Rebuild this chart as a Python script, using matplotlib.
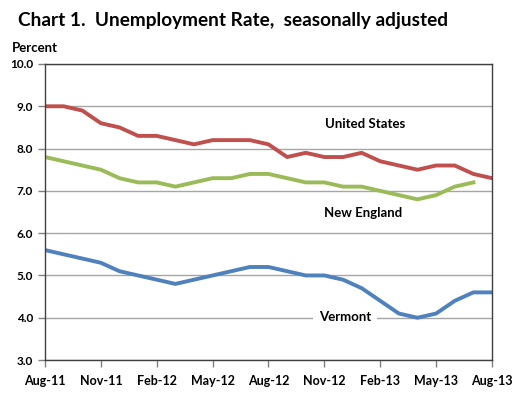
import numpy as np
import matplotlib
matplotlib.use('Agg')
import matplotlib.pyplot as plt

plt.rcParams['font.family'] = ['Lato', 'DejaVu Sans']

months = ['Aug-11', 'Sep-11', 'Oct-11', 'Nov-11', 'Dec-11', 'Jan-12', 'Feb-12',
          'Mar-12', 'Apr-12', 'May-12', 'Jun-12', 'Jul-12', 'Aug-12', 'Sep-12',
          'Oct-12', 'Nov-12', 'Dec-12', 'Jan-13', 'Feb-13', 'Mar-13', 'Apr-13',
          'May-13', 'Jun-13', 'Jul-13', 'Aug-13']

united_states = [9.0, 9.0, 8.9, 8.6, 8.5, 8.3, 8.3, 8.2, 8.1, 8.2, 8.2, 8.2, 8.1,
                 7.8, 7.9, 7.8, 7.8, 7.9, 7.7, 7.6, 7.5, 7.6, 7.6, 7.4, 7.3]
new_england = [7.8, 7.7, 7.6, 7.5, 7.3, 7.2, 7.2, 7.1, 7.2, 7.3, 7.3, 7.4, 7.4,
               7.3, 7.2, 7.2, 7.1, 7.1, 7.0, 6.9, 6.8, 6.9, 7.1, 7.2]
vermont = [5.6, 5.5, 5.4, 5.3, 5.1, 5.0, 4.9, 4.8, 4.9, 5.0, 5.1, 5.2, 5.2,
           5.1, 5.0, 5.0, 4.9, 4.7, 4.4, 4.1, 4.0, 4.1, 4.4, 4.6, 4.6]

y_ticks = [3.0, 4.0, 5.0, 6.0, 7.0, 8.0, 9.0, 10.0]

fig = plt.figure(figsize=(5.22, 4.05), dpi=100)
ax = fig.add_axes([0.0862, 0.111, 0.8563, 0.731])

x = np.arange(len(months))
ax.plot(x, united_states, color='#C0504D', lw=2.8, solid_joinstyle='round')
ax.plot(np.arange(len(new_england)), new_england, color='#9BBB59', lw=2.8,
        solid_joinstyle='round')
ax.plot(x, vermont, color='#4F81BD', lw=2.8, solid_joinstyle='round')

ax.set_xlim(0, len(months) - 1)
ax.set_ylim(3.0, 10.0)
ax.set_yticks(y_ticks)
ax.set_yticklabels(['%.1f' % v for v in y_ticks])
ax.set_xticks(x[::3])
ax.set_xticklabels(months[::3])
ax.yaxis.grid(True, color='#a6a6a6', lw=1)
ax.set_axisbelow(True)

for s in ax.spines.values():
    s.set_color('#404040')
    s.set_linewidth(1)
ax.tick_params(axis='both', direction='out', length=5, color='#808080',
               labelsize=8.5, width=1)
ax.tick_params(axis='x', pad=6, labelsize=9)
for lab in ax.get_xticklabels() + ax.get_yticklabels():
    lab.set_fontweight('bold')

ax.text(17.2, 8.58, 'United States', ha='center', va='center', fontsize=9.5,
        fontweight='bold')
ax.text(17.07, 6.47, 'New England', ha='center', va='center', fontsize=9.5,
        fontweight='bold')
ax.text(16.1, 4.02, 'Vermont', ha='center', va='center', fontsize=9.5,
        fontweight='bold', bbox=dict(facecolor='white', edgecolor='none', pad=4))

fig.text(0.034, 0.95, 'Chart 1.  Unemployment Rate,  seasonally adjusted',
         fontsize=13.7, fontweight='bold', va='center')
fig.text(0.023, 0.882, 'Percent', fontsize=9.5, fontweight='bold', va='center')

fig.savefig('out.png', dpi=100)
